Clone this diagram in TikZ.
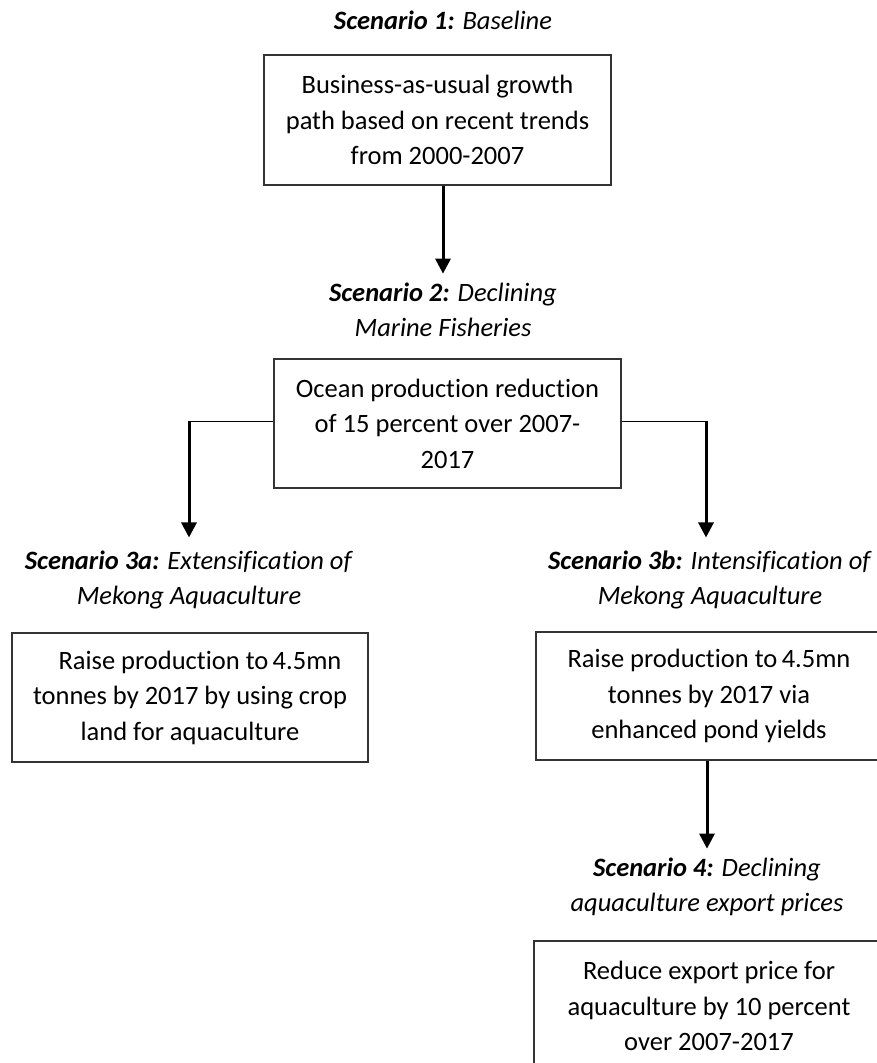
\documentclass[tikz,border=0pt]{standalone}
\usepackage{fontspec}
\setmainfont{Carlito}[Ligatures={NoCommon}]
\usetikzlibrary{arrows.meta,calc}
\begin{document}
\begin{tikzpicture}[x=1pt,y=-1pt,
  txt/.style={font=\fontsize{26.5}{35.5}\selectfont, align=center, inner sep=0pt},
  box/.style={txt, draw=black!80, line width=1.3pt},
  title/.style={txt},
  arr/.style={line width=3pt, -{Triangle[width=15pt,length=15pt]}},
  branch/.style={line width=1pt}]
\useasboundingbox (0,0) rectangle (877,1063);
% titles
\node[title] (t1) at (443,20) {\textbf{\textit{Scenario 1:}} \textit{Baseline}};
\node[title] (t2) at (443,310) {\textbf{\textit{Scenario 2:}} \textit{Declining}\\\textit{Marine Fisheries}};
\node[title] (t3a) at (189,580) {\textbf{\textit{Scenario 3a:}} \textit{Extensification of}\\\textit{Mekong Aquaculture}};
\node[title] (t3b) at (710,580) {\textbf{\textit{Scenario 3b:}} \textit{Intensification of}\\\textit{Mekong Aquaculture}};
\node[title] (t4) at (707,887) {\textbf{\textit{Scenario 4:}} \textit{Declining}\\\textit{aquaculture export prices}};
% boxes
\node[box, minimum width=347pt, minimum height=130pt] (b1) at (437.5,120)
  {Business-as-usual growth\\path based on recent trends\\from 2000-2007};
\node[box, minimum width=347pt, minimum height=129pt] (b2) at (447.5,423.5)
  {Ocean production reduction\\of 15 percent over 2007-\\2017};
\node[box, minimum width=356pt, minimum height=129pt] (b3a) at (190,697.5)
  {\hspace*{20pt}Raise production to\,4.5mn\\tonnes by 2017 by using crop\\land for aquaculture};
\node[box, minimum width=346pt, minimum height=128pt] (b3b) at (709,696)
  {Raise production to\,4.5mn\\tonnes by 2017 via\\enhanced pond yields};
\node[box, minimum width=350pt, minimum height=130pt] (b4) at (709,1006)
  {Reduce export price for\\aquaculture by 10 percent\\over 2007-2017};
% connectors
\coordinate (e1) at ($(t2.north)+(0,-9)$);
\draw[arr] (b1.south -| e1) -- (e1);
\coordinate (l1) at (189,421);
\coordinate (r1) at (706,421);
\coordinate (e3a) at ($(t3a.north)+(0,-13)$);
\coordinate (e3b) at ($(t3b.north)+(0,-13)$);
\draw[branch] (b2.west |- l1) -- (l1);
\draw[branch] (b2.east |- r1) -- (r1);
\draw[arr] (l1) -- (l1 |- e3a);
\draw[arr] (r1) -- (r1 |- e3b);
\coordinate (e4) at ($(t4.north)+(0,-9)$);
\draw[arr] (b3b.south -| e4) -- (e4);
\end{tikzpicture}
\end{document}
